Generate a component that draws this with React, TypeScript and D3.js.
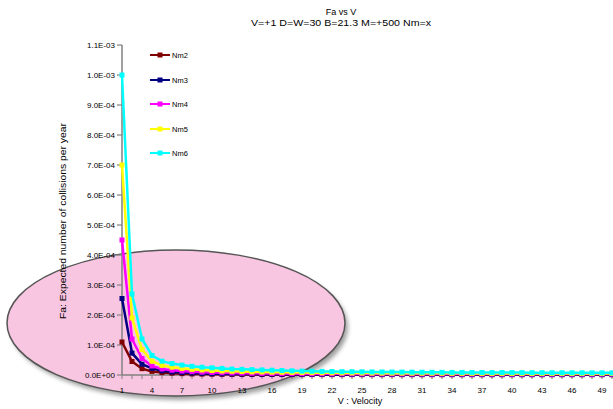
import React from "react";
import * as d3 from "d3";

const categories = [1,2,3,4,5,6,7,8,9,10,11,12,13,14,15,16,17,18,19,20,21,22,23,24,25,26,27,28,29,30,31,32,33,34,35,36,37,38,39,40,41,42,43,44,45,46,47,48,49,50];
const xTickLabels = ["1","4","7","10","13","16","19","22","25","28","31","34","37","40","43","46","49"];
const yTicks = [0,1e-4,2e-4,3e-4,4e-4,5e-4,6e-4,7e-4,8e-4,9e-4,1.0e-3,1.1e-3];
const seriesNames = ["Nm2","Nm3","Nm4","Nm5","Nm6"];

const nm2 = [1.1e-4,4.5e-5,2.1e-5,1.2e-5,8e-6,6e-6,4.5e-6,3.5e-6,3e-6,2.6e-6,2.3e-6,2.1e-6,1.9e-6,1.8e-6,1.7e-6,1.6e-6,1.5e-6,1.45e-6,1.4e-6,1.35e-6,1.3e-6,1.25e-6,1.2e-6,1.2e-6,1.15e-6,1.15e-6,1.1e-6,1.1e-6,1.1e-6,1.05e-6,1.05e-6,1.0e-6,1.0e-6,1.0e-6,1.0e-6,1.0e-6,1.0e-6,1.0e-6,1.0e-6,1.0e-6,1.0e-6,1.0e-6,1.0e-6,1.0e-6,1.0e-6,1.0e-6,1.0e-6,1.0e-6,1.0e-6,1.0e-6];
const nm3 = [2.55e-4,7.3e-5,3.6e-5,2.2e-5,1.4e-5,1.0e-5,8e-6,6.5e-6,5.5e-6,4.5e-6,4e-6,3.6e-6,3.3e-6,3e-6,2.8e-6,2.6e-6,2.4e-6,2.3e-6,2.2e-6,2.1e-6,2e-6,1.95e-6,1.9e-6,1.85e-6,1.8e-6,1.75e-6,1.7e-6,1.7e-6,1.65e-6,1.65e-6,1.6e-6,1.6e-6,1.6e-6,1.55e-6,1.55e-6,1.55e-6,1.5e-6,1.5e-6,1.5e-6,1.5e-6,1.5e-6,1.5e-6,1.5e-6,1.5e-6,1.5e-6,1.5e-6,1.5e-6,1.5e-6,1.5e-6,1.5e-6];
const nm4 = [4.5e-4,1.2e-4,5.5e-5,3.0e-5,2.0e-5,1.6e-5,1.3e-5,1.1e-5,9.5e-6,8.5e-6,7.5e-6,6.8e-6,6.2e-6,5.7e-6,5.3e-6,5e-6,4.7e-6,4.5e-6,4.3e-6,4.1e-6,4e-6,3.9e-6,3.8e-6,3.7e-6,3.6e-6,3.55e-6,3.5e-6,3.45e-6,3.4e-6,3.35e-6,3.3e-6,3.25e-6,3.2e-6,3.2e-6,3.15e-6,3.15e-6,3.1e-6,3.1e-6,3.05e-6,3.05e-6,3e-6,3e-6,3e-6,3e-6,3e-6,3e-6,3e-6,3e-6,3e-6,3e-6];
const nm5 = [7.0e-4,1.9e-4,8.5e-5,4.6e-5,3.2e-5,2.6e-5,2.2e-5,1.9e-5,1.7e-5,1.5e-5,1.35e-5,1.25e-5,1.15e-5,1.05e-5,1.0e-5,9.5e-6,9e-6,8.5e-6,8e-6,7.7e-6,7.4e-6,7.1e-6,6.9e-6,6.7e-6,6.5e-6,6.3e-6,6.2e-6,6.1e-6,6e-6,5.9e-6,5.8e-6,5.7e-6,5.6e-6,5.5e-6,5.45e-6,5.4e-6,5.35e-6,5.3e-6,5.25e-6,5.2e-6,5.15e-6,5.1e-6,5.1e-6,5.05e-6,5.05e-6,5e-6,5e-6,5e-6,5e-6,5e-6];
const nm6 = [1.0e-3,2.7e-4,1.2e-4,6.5e-5,4.6e-5,3.8e-5,3.3e-5,2.9e-5,2.6e-5,2.4e-5,2.2e-5,2.0e-5,1.9e-5,1.8e-5,1.7e-5,1.6e-5,1.5e-5,1.4e-5,1.3e-5,1.25e-5,1.2e-5,1.15e-5,1.1e-5,1.08e-5,1.05e-5,1.02e-5,1.0e-5,9.8e-6,9.6e-6,9.4e-6,9.2e-6,9e-6,8.8e-6,8.7e-6,8.6e-6,8.5e-6,8.4e-6,8.3e-6,8.2e-6,8.1e-6,8e-6,7.9e-6,7.8e-6,7.7e-6,7.6e-6,7.5e-6,7.4e-6,7.3e-6,7.2e-6,7.1e-6];

const seriesValues = [nm2, nm3, nm4, nm5, nm6];
const colors = ["#800000", "#000080", "#FF00FF", "#FFFF00", "#00FFFF"];

const fmt = (v: number) => {
  const [m, e] = v.toExponential(1).split("e");
  const sign = e[0] === "-" ? "-" : "+";
  const n = Math.abs(parseInt(e, 10));
  return `${m}E${sign}${n < 10 ? "0" + n : n}`;
};

export default function App() {
  const x = d3.scalePoint<number>().domain(categories).range([122, 612]);
  const y = d3.scaleLinear().domain([0, 1.1e-3]).range([375, 45]);
  const line = d3.line<number>().x((_, i) => x(categories[i])!).y((d) => y(d));
  const font = "'Liberation Sans', Arial, sans-serif";
  const legendY = [55, 80, 104, 129, 153];

  return (
    <svg width={613} height={409} style={{ position: "absolute", left: 0, top: 0, background: "#fff" }} fontFamily={font}>
      <defs>
        <filter id="blur" x="-20%" y="-20%" width="140%" height="140%">
          <feGaussianBlur stdDeviation="2" />
        </filter>
      </defs>
      {/* ellipse with shadow */}
      <ellipse cx={179} cy={327} rx={169} ry={73} fill="#777" opacity={0.7} filter="url(#blur)" />
      <ellipse cx={176} cy={323} rx={169} ry={73} fill="#F9C6E1" stroke="#555" strokeWidth={1.5} />

      {/* title */}
      <text x={341} y={15} fontSize={9} textAnchor="middle" fill="#000">Fa vs V</text>
      <text x={341} y={26} fontSize={8.5} textAnchor="middle" fill="#000" textLength={180} lengthAdjust="spacingAndGlyphs">V=+1 D=W=30 B=21.3 M=+500 Nm=x</text>

      {/* axes */}
      <line x1={122} x2={122} y1={45} y2={375} stroke="#808080" strokeWidth={1.5} />
      <line x1={122} x2={613} y1={375} y2={375} stroke="#808080" strokeWidth={1.5} />
      {yTicks.map((t) => (
        <g key={t}>
          <line x1={117} x2={122} y1={y(t)} y2={y(t)} stroke="#808080" strokeWidth={1.2} />
          <text x={115} y={y(t)} dy="0.35em" fontSize={8} textAnchor="end" fill="#000">{fmt(t)}</text>
        </g>
      ))}
      {categories.map((c) => (
        <line key={c} x1={x(c)!} x2={x(c)!} y1={375} y2={379} stroke="#808080" strokeWidth={1} />
      ))}
      {xTickLabels.map((l) => (
        <text key={l} x={x(+l)!} y={393} fontSize={8} textAnchor="middle" fill="#000">{l}</text>
      ))}
      <text x={360} y={404} fontSize={9} textAnchor="middle" fill="#000">V : Velocity</text>
      <text transform="translate(66,221) rotate(-90)" fontSize={9} textAnchor="middle" fill="#000" textLength={196} lengthAdjust="spacingAndGlyphs">Fa: Expected number of collisions per year</text>

      {/* series */}
      {seriesValues.map((vals, si) => (
        <g key={si}>
          <path d={line(vals)!} fill="none" stroke={colors[si]} strokeWidth={2.5} />
          {vals.map((v, i) => (
            <rect key={i} x={x(categories[i])! - 2.5} y={y(v) - 2.5} width={5} height={5} fill={colors[si]} />
          ))}
        </g>
      ))}

      {/* legend */}
      {seriesNames.map((n, i) => (
        <g key={n}>
          <line x1={150} x2={170} y1={legendY[i]} y2={legendY[i]} stroke={colors[i]} strokeWidth={2} />
          <rect x={157.5} y={legendY[i] - 2.5} width={5} height={5} fill={colors[i]} />
          <text x={172} y={legendY[i]} dy="0.35em" fontSize={7.5} fill="#000">{n}</text>
        </g>
      ))}
    </svg>
  );
}
